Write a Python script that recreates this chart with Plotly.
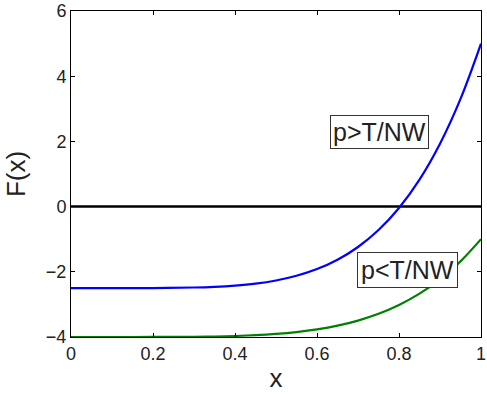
import plotly.graph_objects as go

x_vals = [0.0, 0.1, 0.2, 0.3, 0.35, 0.4, 0.45, 0.5, 0.55, 0.6, 0.65, 0.7, 0.75, 0.8, 0.85, 0.9, 0.95, 1.0]
f_high = [-2.5, -2.5, -2.498, -2.482, -2.461, -2.423, -2.362, -2.266, -2.123, -1.917, -1.630, -1.239, -0.720, -0.042, 0.828, 1.929, 3.304, 5.0]
f_low = [-4.0, -4.0, -3.999, -3.993, -3.984, -3.969, -3.945, -3.906, -3.849, -3.767, -3.652, -3.496, -3.288, -3.017, -2.669, -2.229, -1.679, -1.0]
zero_line = [0.0, 0.0]
zero_x = [0.0, 1.0]
label_high = "p>T/NW"
label_low = "p<T/NW"

fig = go.Figure()
fig.add_trace(go.Scatter(x=zero_x, y=zero_line, mode="lines", line=dict(color="black", width=2.5), cliponaxis=False))
fig.add_trace(go.Scatter(x=x_vals, y=f_high, mode="lines", line=dict(color="#0000ff", width=2.2, shape="spline")))
fig.add_trace(go.Scatter(x=x_vals, y=f_low, mode="lines", line=dict(color="#008000", width=2.2, shape="spline")))

ann_font = dict(family="Liberation Sans, Arial, sans-serif", size=25, color="#222")
fig.add_annotation(x=0.752, y=2.29, text=label_high, showarrow=False, font=ann_font,
                   bordercolor="#333", borderwidth=1, borderpad=2, bgcolor="white")
fig.add_annotation(x=0.82, y=-1.94, text=label_low, showarrow=False, font=ann_font,
                   bordercolor="#333", borderwidth=1, borderpad=3, bgcolor="white")

axis_common = dict(showgrid=False, zeroline=False, showline=True, linecolor="black", linewidth=1,
                   mirror="ticks", ticks="inside", ticklen=4, tickcolor="black",
                   tickfont=dict(family="Liberation Sans, Arial, sans-serif", size=18, color="#222"))
fig.update_xaxes(range=[0, 1], tickvals=[0, 0.2, 0.4, 0.6, 0.8, 1], ticktext=["0", "0.2", "0.4", "0.6", "0.8", "1"],
                 ticklabeloverflow="allow",
                 title=dict(text="x", font=dict(family="Liberation Sans, Arial, sans-serif", size=26, color="#222"), standoff=6),
                 **axis_common)
fig.update_yaxes(range=[-4, 6], tickvals=[-4, -2, 0, 2, 4, 6], ticklabeloverflow="allow",
                 title=dict(text="F(x)", font=dict(family="Liberation Sans, Arial, sans-serif", size=26, color="#222"), standoff=12),
                 **axis_common)
fig.update_layout(width=487, height=396, margin=dict(l=71, r=1, t=11, b=59),
                  plot_bgcolor="white", paper_bgcolor="white", showlegend=False)
fig.write_html("out.html", config={"displayModeBar": False},
               post_script="document.body.style.margin='0';document.body.style.overflow='hidden';")
